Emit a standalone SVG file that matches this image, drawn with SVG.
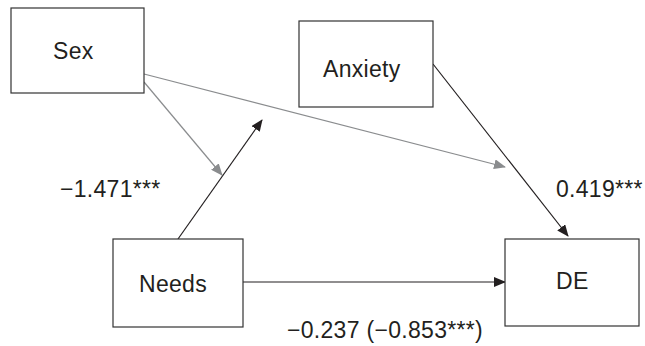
<svg xmlns="http://www.w3.org/2000/svg" width="645" height="346" viewBox="0 0 645 346">
<style>
.box{fill:#fff;stroke:#333;stroke-width:1.2}
.t{font-family:"Liberation Sans",Arial,sans-serif;font-size:23px;letter-spacing:0.3px;fill:#231f20}
.k{stroke:#231f20;stroke-width:1.2;fill:none}
.g{stroke:#8a8c8e;stroke-width:1.2;fill:none}
</style>
<defs>
<marker id="ak" markerWidth="12" markerHeight="10" refX="11" refY="5" orient="auto" markerUnits="userSpaceOnUse"><path d="M0,0 L12,5 L0,10 Z" fill="#231f20"/></marker>
<marker id="ag" markerWidth="12" markerHeight="10" refX="11" refY="5" orient="auto" markerUnits="userSpaceOnUse"><path d="M0,0 L12,5 L0,10 Z" fill="#8a8c8e"/></marker>
</defs>
<rect width="645" height="346" fill="#fff"/>
<g id="connectors">
<line class="g" x1="144" y1="82" x2="222" y2="175" marker-end="url(#ag)"/>
<line class="g" x1="144" y1="74" x2="505" y2="167" marker-end="url(#ag)"/>
<line class="k" x1="178" y1="239" x2="262" y2="120" marker-end="url(#ak)"/>
<line class="k" x1="433" y1="64" x2="568" y2="236" marker-end="url(#ak)"/>
<line class="k" x1="243" y1="282" x2="505" y2="282" marker-end="url(#ak)"/>
</g>
<g id="sex"><rect class="box" x="11" y="8" width="133" height="85"/><text class="t" x="53" y="59">Sex</text></g>
<g id="anxiety"><rect class="box" x="299" y="21" width="134" height="86"/><text class="t" x="323" y="77">Anxiety</text></g>
<g id="needs"><rect class="box" x="113" y="239" width="130" height="88"/><text class="t" x="139" y="292">Needs</text></g>
<g id="de"><rect class="box" x="505" y="239" width="134" height="87"/><text class="t" x="556" y="289">DE</text></g>
<g id="labels">
<text class="t" x="60" y="197">−1.471***</text>
<text class="t" x="556" y="197">0.419***</text>
<text class="t" x="287" y="338">−0.237 (−0.853***)</text>
</g>
</svg>
